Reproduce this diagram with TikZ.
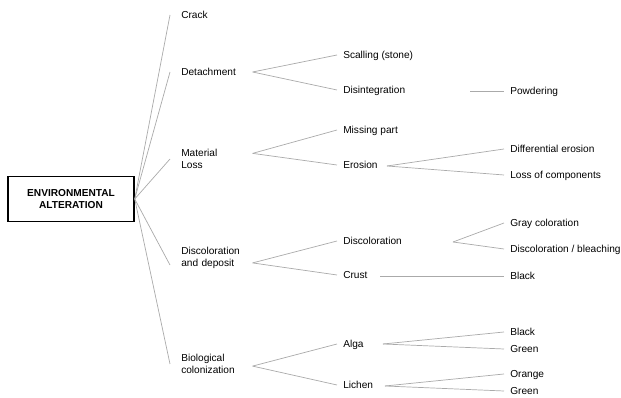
\documentclass[tikz,border=0pt]{standalone}
\usepackage{fontspec}
\setmainfont{Liberation Sans}
\usepackage{tikz}
\usetikzlibrary{positioning,calc}
\definecolor{linegray}{RGB}{170,170,170}

\tikzset{
  link/.style={draw=linegray, line width=0.5pt},
  txt/.style={anchor=west, inner ysep=0pt, font=\fontsize{7.2}{8.5}\selectfont},
  lvlone/.style={txt, inner xsep=0.275cm, text width=1.5cm, align=left},
  lvltwo/.style={txt, inner xsep=0.15cm, text height=5.2pt, text depth=0pt},
  lvlthree/.style={lvltwo},
  rootbox/.style={draw, line width=1pt, minimum width=3.15cm, minimum height=1.125cm,
    align=center, font=\fontsize{7.2}{8}\selectfont\bfseries}
}

\begin{document}
\begin{tikzpicture}[x=0.025cm, y=-0.025cm]
\useasboundingbox (0,0) rectangle (621,398);

% root
\node[rootbox] (env) at (71,199) {ENVIRONMENTAL\\ALTERATION};

% first level
\node[lvlone, text height=5.2pt, text depth=0pt] (crack) at (170,15) {Crack};
\node[lvlone, text height=5.2pt, text depth=0pt] (detach) at (170,72) {Detachment};
\node[lvlone] (matloss) at (170,159) {Material\\Loss};
\node[lvlone] (discdep) at (170,258) {Discoloration\\and deposit};
\node[lvlone] (bio) at (170,364) {Biological\\colonization};

\foreach \n in {crack,detach,matloss,bio}
  \draw[link] (env.east) -- (\n.west);
\draw[link] (env.east) -- ([yshift=-5pt]discdep.west);

% second level
\node[lvltwo] (scal) at (337,55) {Scalling (stone)};
\node[lvltwo] (disint) at (337,90) {Disintegration};
\node[lvltwo] (missing) at (337,130) {Missing part};
\node[lvltwo] (erosion) at (337,165) {Erosion};
\node[lvltwo] (discol) at (337,241) {Discoloration};
\node[lvltwo] (crust) at (337,275) {Crust};
\node[lvltwo] (alga) at (337,344) {Alga};
\node[lvltwo] (lichen) at (337,385) {Lichen};

\draw[link] (detach.east) -- (scal.west);
\draw[link] (detach.east) -- (disint.west);
\draw[link] ([yshift=4pt]matloss.east) -- (missing.west);
\draw[link] ([yshift=4pt]matloss.east) -- (erosion.west);
\draw[link] ([yshift=-3.5pt]discdep.east) -- (discol.west);
\draw[link] ([yshift=-3.5pt]discdep.east) -- (crust.west);
\draw[link] ([yshift=-1.5pt]bio.east) -- (alga.west);
\draw[link] ([yshift=-1.5pt]bio.east) -- (lichen.west);

% third level
\node[lvlthree] (powder) at (504,91) {Powdering};
\node[lvlthree] (differo) at (504,149) {Differential erosion};
\node[lvlthree] (losscomp) at (504,175) {Loss of components};
\node[lvlthree] (gray) at (504,223) {Gray coloration};
\node[lvlthree] (bleach) at (504,249) {Discoloration / bleaching};
\node[lvlthree] (crustblack) at (504,276) {Black};
\node[lvlthree] (algablack) at (504,332) {Black};
\node[lvlthree] (algagreen) at (504,349) {Green};
\node[lvlthree] (orange) at (504,374) {Orange};
\node[lvlthree] (lichgreen) at (504,391) {Green};

\coordinate (disint-r) at (470,91);
\coordinate (erosion-r) at (387,166);
\coordinate (discol-r) at (453,242);
\coordinate (crust-r) at (380,276);
\coordinate (alga-r) at (383,344);
\coordinate (lichen-r) at (385,386);

\draw[link] (disint-r) -- (powder.west);
\draw[link] (erosion-r) -- (differo.west);
\draw[link] (erosion-r) -- (losscomp.west);
\draw[link] (discol-r) -- (gray.west);
\draw[link] (discol-r) -- (bleach.west);
\draw[link] (crust-r) -- (crustblack.west);
\draw[link] (alga-r) -- (algablack.west);
\draw[link] (alga-r) -- (algagreen.west);
\draw[link] (lichen-r) -- (orange.west);
\draw[link] (lichen-r) -- (lichgreen.west);
\end{tikzpicture}
\end{document}
